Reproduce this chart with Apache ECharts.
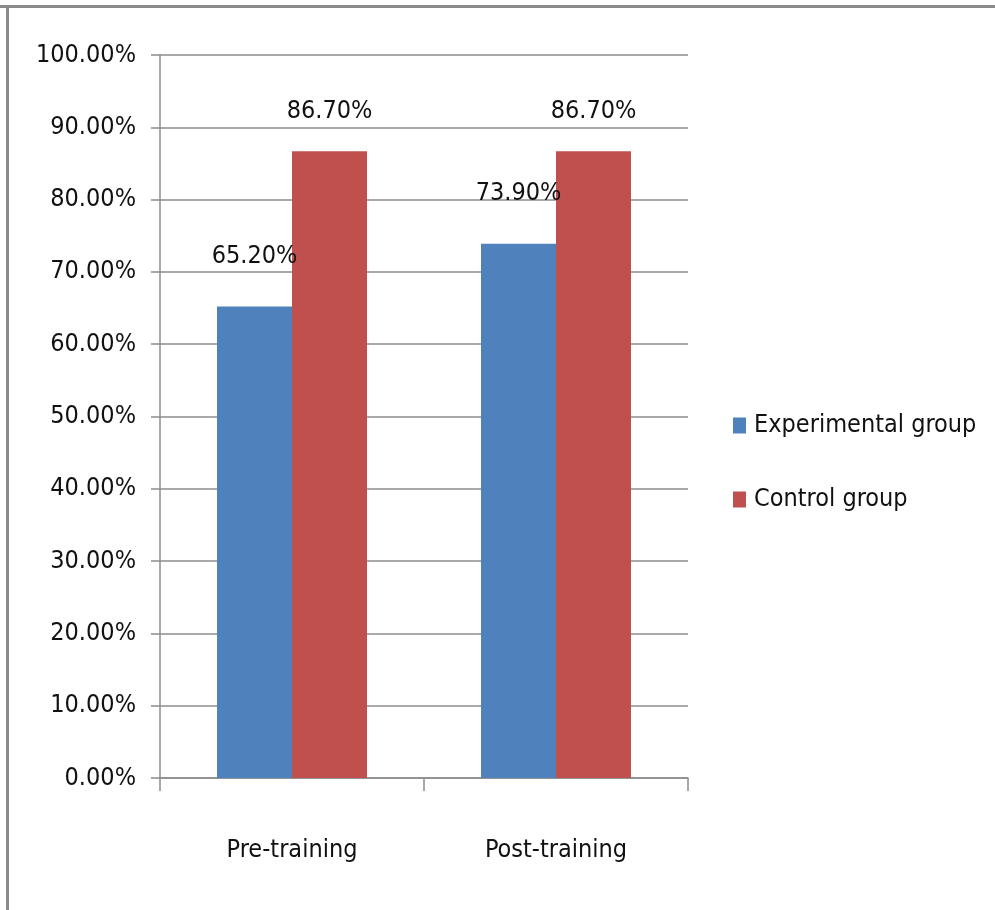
<!DOCTYPE html>
<html>
<head>
<meta charset="utf-8">
<script src="https://cdn.jsdelivr.net/npm/echarts@6/dist/echarts.min.js"></script>
<style>
  html, body { margin: 0; padding: 0; background: #fff; }
  #chart { width: 995px; height: 910px; }
</style>
</head>
<body>
<div id="chart"></div>
<script>
// Data
const categories = ['Pre-training', 'Post-training'];
const experimental = [65.2, 73.9];
const control = [86.7, 86.7];
const seriesNames = ['Experimental group', 'Control group'];

const FONT = '"Liberation Sans Narrow", "DejaVu Sans Condensed", sans-serif';
const FS = 25;
const chart = echarts.init(document.getElementById('chart'));

const pct = v => v.toFixed(2) + '%';

chart.setOption({
    backgroundColor: '#fff',
    animation: false,
    textStyle: { fontFamily: FONT },
    grid: { left: 160, right: 307, top: 55, bottom: 132 },
    legend: {
        orient: 'vertical',
        left: 728,
        top: 408,
        itemWidth: 13,
        itemHeight: 16,
        itemGap: 49,
        icon: 'rect',
        textStyle: { fontFamily: FONT, fontSize: FS, color: '#111', padding: [0, 0, 0, 3] },
        data: seriesNames
    },
    xAxis: {
        type: 'category',
        data: categories,
        axisLine: { lineStyle: { color: '#8c8c8c', width: 1.5 } },
        axisTick: { show: true, length: 13, lineStyle: { color: '#8c8c8c', width: 1.5 } },
        axisLabel: { fontFamily: FONT, fontSize: FS, color: '#111', margin: 60 }
    },
    yAxis: {
        type: 'value',
        min: 0,
        max: 100,
        interval: 10,
        axisLine: { show: true, lineStyle: { color: '#8c8c8c', width: 1.5 } },
        axisTick: { show: true, length: 9, lineStyle: { color: '#8c8c8c', width: 1.5 } },
        splitLine: { lineStyle: { color: '#8c8c8c', width: 1.5 } },
        axisLabel: { fontFamily: FONT, fontSize: FS, color: '#111', margin: 24, formatter: v => pct(v) }
    },
    series: [
        {
            name: seriesNames[0],
            type: 'bar',
            data: experimental,
            barWidth: 75,
            barGap: '0%',
            itemStyle: { color: '#4f81bd' },
            label: { show: true, position: 'top', distance: 38, fontFamily: FONT, fontSize: FS, color: '#111', formatter: p => pct(p.value) }
        },
        {
            name: seriesNames[1],
            type: 'bar',
            data: control,
            barWidth: 75,
            itemStyle: { color: '#c0504d' },
            label: { show: true, position: 'top', distance: 27, fontFamily: FONT, fontSize: FS, color: '#111', formatter: p => pct(p.value) }
        }
    ],
    graphic: [
        { type: 'line', shape: { x1: 0, y1: 6.5, x2: 995, y2: 6.5 }, style: { stroke: '#8a8a8a', lineWidth: 3 } },
        { type: 'line', shape: { x1: 7.5, y1: 6, x2: 7.5, y2: 910 }, style: { stroke: '#8a8a8a', lineWidth: 3 } }
    ]
});
</script>
</body>
</html>
